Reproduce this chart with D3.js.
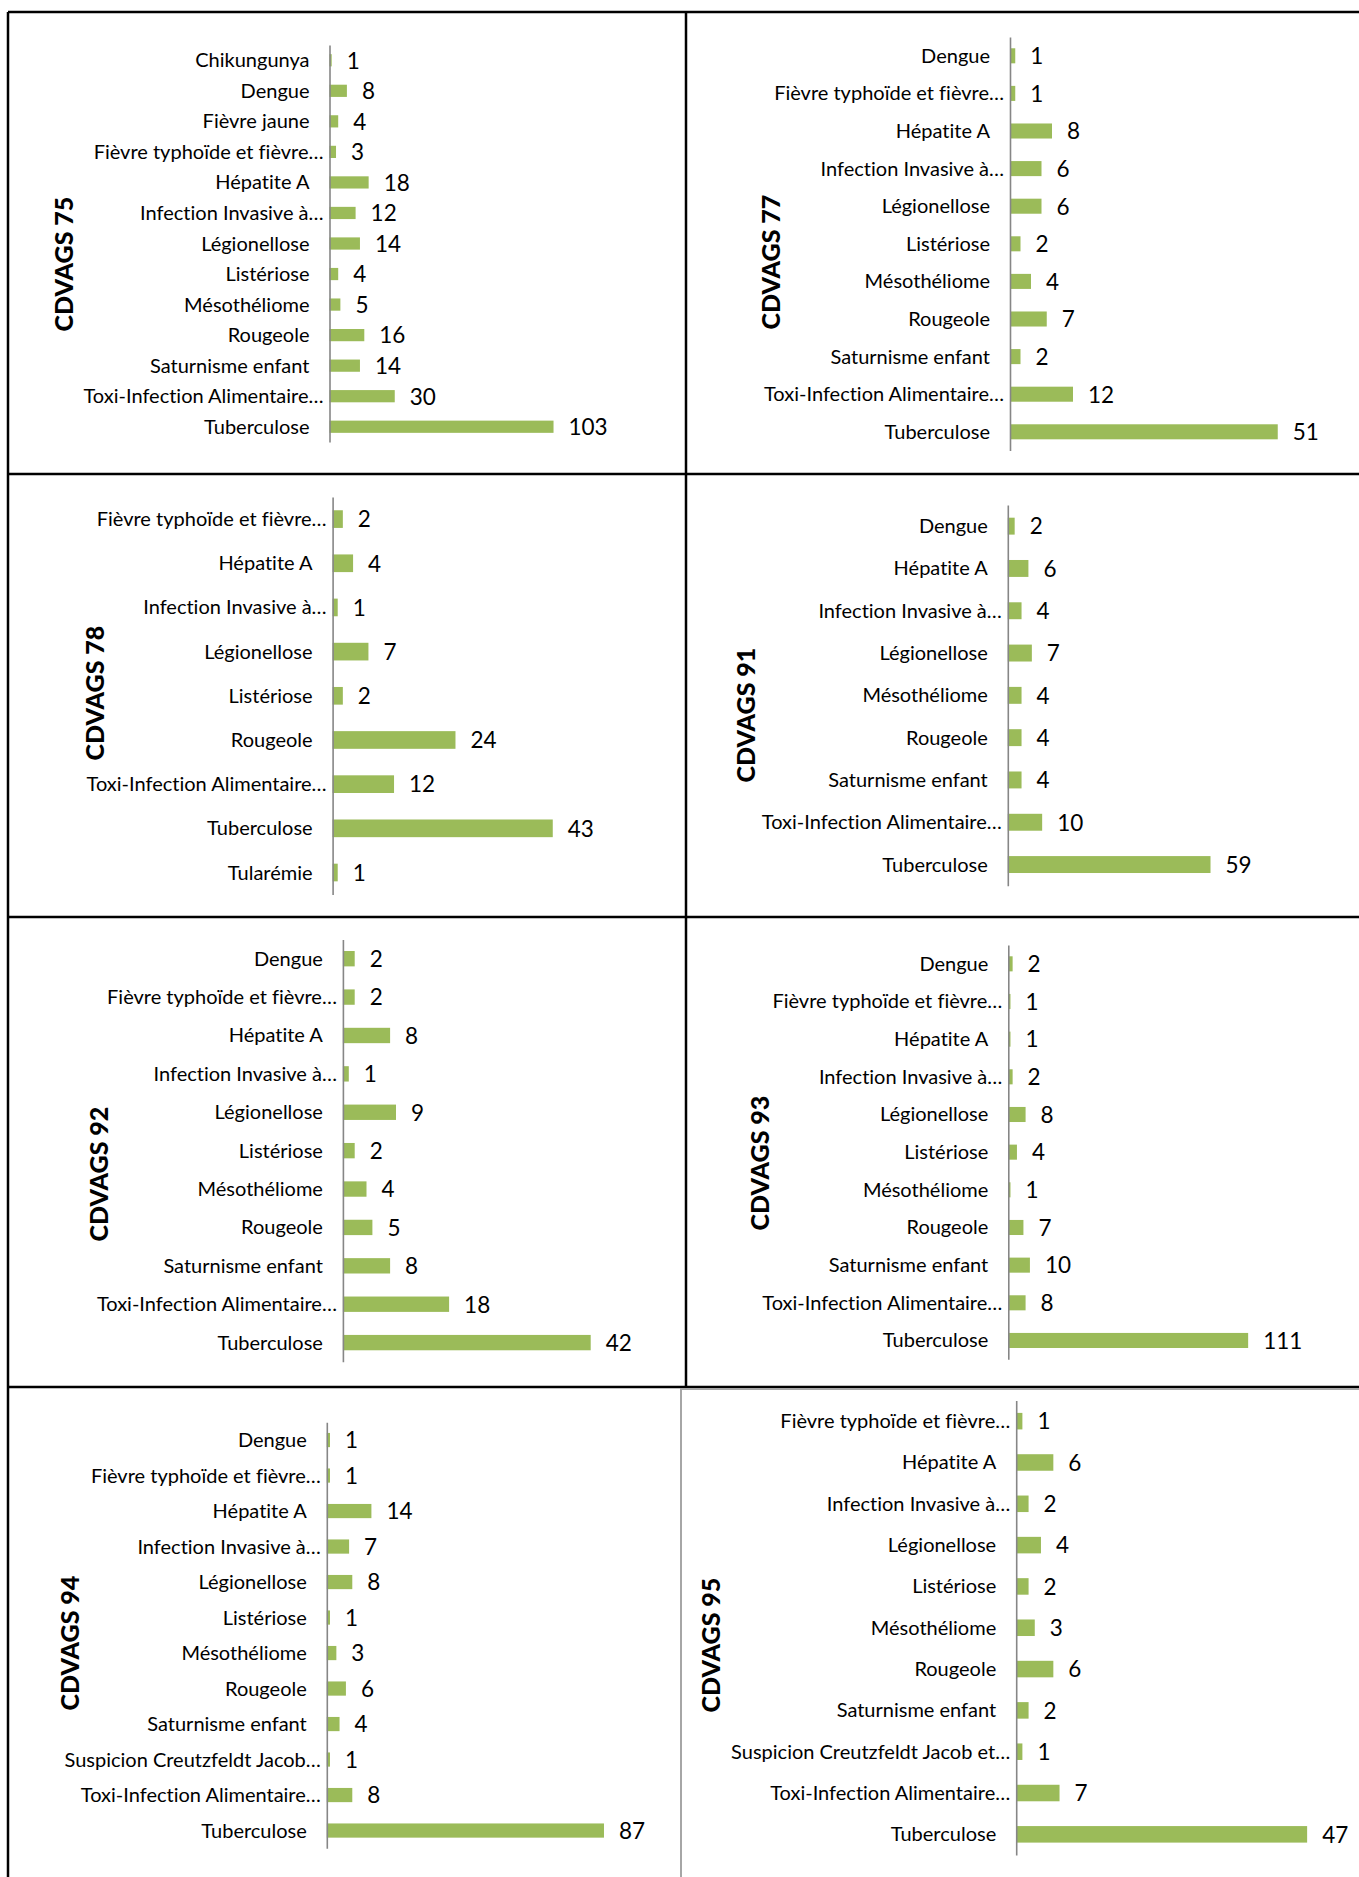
<!DOCTYPE html>
<html>
<head>
<meta charset="utf-8">
<script src="https://cdn.jsdelivr.net/npm/d3@7"></script>
<style>
  body { margin: 0; background: #fff; }
  svg { display: block; }
  text { font-variant-ligatures: none; font-feature-settings: "liga" 0; }
  .catLabel { font-family: Lato, "Noto Sans", sans-serif; font-size: 20px; fill: #000; }
  .valLabel { font-family: Lato, "Noto Sans", sans-serif; font-size: 22.5px; fill: #000; }
  .panelTitle { font-family: Lato, "Noto Sans", sans-serif; font-weight: 900; font-size: 25px; fill: #000; }
  .bar { fill: #9bbb59; }
  .grid { stroke: #000; stroke-width: 2.5; }
</style>
</head>
<body>
<div id="chart"></div>
<script>
// ---- data, one pair of arrays per CDVAGS ----
const cats75 = ["Chikungunya", "Dengue", "Fièvre jaune", "Fièvre typhoïde et fièvre…", "Hépatite A",
  "Infection Invasive à…", "Légionellose", "Listériose", "Mésothéliome", "Rougeole",
  "Saturnisme enfant", "Toxi-Infection Alimentaire…", "Tuberculose"];
const vals75 = [1, 8, 4, 3, 18, 12, 14, 4, 5, 16, 14, 30, 103];

const cats77 = ["Dengue", "Fièvre typhoïde et fièvre…", "Hépatite A", "Infection Invasive à…",
  "Légionellose", "Listériose", "Mésothéliome", "Rougeole", "Saturnisme enfant",
  "Toxi-Infection Alimentaire…", "Tuberculose"];
const vals77 = [1, 1, 8, 6, 6, 2, 4, 7, 2, 12, 51];

const cats78 = ["Fièvre typhoïde et fièvre…", "Hépatite A", "Infection Invasive à…", "Légionellose",
  "Listériose", "Rougeole", "Toxi-Infection Alimentaire…", "Tuberculose", "Tularémie"];
const vals78 = [2, 4, 1, 7, 2, 24, 12, 43, 1];

const cats91 = ["Dengue", "Hépatite A", "Infection Invasive à…", "Légionellose", "Mésothéliome",
  "Rougeole", "Saturnisme enfant", "Toxi-Infection Alimentaire…", "Tuberculose"];
const vals91 = [2, 6, 4, 7, 4, 4, 4, 10, 59];

const cats92 = ["Dengue", "Fièvre typhoïde et fièvre…", "Hépatite A", "Infection Invasive à…",
  "Légionellose", "Listériose", "Mésothéliome", "Rougeole", "Saturnisme enfant",
  "Toxi-Infection Alimentaire…", "Tuberculose"];
const vals92 = [2, 2, 8, 1, 9, 2, 4, 5, 8, 18, 42];

const cats93 = ["Dengue", "Fièvre typhoïde et fièvre…", "Hépatite A", "Infection Invasive à…",
  "Légionellose", "Listériose", "Mésothéliome", "Rougeole", "Saturnisme enfant",
  "Toxi-Infection Alimentaire…", "Tuberculose"];
const vals93 = [2, 1, 1, 2, 8, 4, 1, 7, 10, 8, 111];

const cats94 = ["Dengue", "Fièvre typhoïde et fièvre…", "Hépatite A", "Infection Invasive à…",
  "Légionellose", "Listériose", "Mésothéliome", "Rougeole", "Saturnisme enfant",
  "Suspicion Creutzfeldt Jacob…", "Toxi-Infection Alimentaire…", "Tuberculose"];
const vals94 = [1, 1, 14, 7, 8, 1, 3, 6, 4, 1, 8, 87];

const cats95 = ["Fièvre typhoïde et fièvre…", "Hépatite A", "Infection Invasive à…", "Légionellose",
  "Listériose", "Mésothéliome", "Rougeole", "Saturnisme enfant",
  "Suspicion Creutzfeldt Jacob et…", "Toxi-Infection Alimentaire…", "Tuberculose"];
const vals95 = [1, 6, 2, 4, 2, 3, 6, 2, 1, 7, 47];

// axis maximum of each chart (as the spreadsheet picked it)
const axisMax = {"75": 120, "77": 60, "78": 50, "91": 70, "92": 45, "93": 120, "94": 100, "95": 50};

// ---- layout: where every chart sits on the page ----
const width = 1359, height = 1877;
const layout = [
  {id: "75", cats: cats75, vals: vals75, axisX: 329.5, top: 45, bottom: 442, plotW: 261, tx: 64, ty: 264},
  {id: "77", cats: cats77, vals: vals77, axisX: 1010, top: 37, bottom: 450.6, plotW: 315, tx: 771, ty: 262},
  {id: "78", cats: cats78, vals: vals78, axisX: 332.6, top: 497, bottom: 894.6, plotW: 256, tx: 95, ty: 693},
  {id: "91", cats: cats91, vals: vals91, axisX: 1007.8, top: 505, bottom: 885.7, plotW: 240.5, tx: 746, ty: 715},
  {id: "92", cats: cats92, vals: vals92, axisX: 342.9, top: 939.5, bottom: 1361.8, plotW: 265.5, tx: 99, ty: 1174},
  {id: "93", cats: cats93, vals: vals93, axisX: 1008.3, top: 945, bottom: 1359.3, plotW: 259.3, tx: 760, ty: 1163},
  {id: "94", cats: cats94, vals: vals94, axisX: 326.8, top: 1422.3, bottom: 1848.3, plotW: 318.6, tx: 70, ty: 1643},
  {id: "95", cats: cats95, vals: vals95, axisX: 1016.2, top: 1400.5, bottom: 1855, plotW: 309.5, tx: 711, ty: 1645}
];

const svg = d3.select("#chart").append("svg")
  .attr("width", width)
  .attr("height", height)
  .style("background", "#fff");

// table lines of the document around the charts
const gridLines = [
  [8, 12, width, 12],
  [8, 474, width, 474],
  [8, 917, width, 917],
  [8, 1387, width, 1387],
  [8, 12, 8, height],
  [686, 12, 686, 1387]
];
svg.append("g").selectAll("line")
  .data(gridLines)
  .enter().append("line")
  .attr("class", "grid")
  .attr("x1", d => d[0]).attr("y1", d => d[1])
  .attr("x2", d => d[2]).attr("y2", d => d[3]);

// chart area border of the last chart (overlaps the table cell)
svg.append("path")
  .attr("d", "M681," + height + "V1389H" + width)
  .attr("fill", "none")
  .attr("stroke", "#a6a6a6")
  .attr("stroke-width", 2);

function drawPanel(p) {
  const g = svg.append("g").attr("class", "panel-" + p.id);

  const y = d3.scaleBand()
    .domain(p.cats)
    .range([p.top, p.bottom])
    .paddingInner(0.6)
    .paddingOuter(0.3);

  const x = d3.scaleLinear()
    .domain([0, axisMax[p.id]])
    .range([p.axisX, p.axisX + p.plotW]);

  // bars
  g.selectAll("rect")
    .data(p.cats)
    .enter().append("rect")
    .attr("class", "bar")
    .attr("x", x(0))
    .attr("y", d => y(d))
    .attr("width", (d, i) => x(p.vals[i]) - x(0))
    .attr("height", y.bandwidth());

  // vertical category axis
  const ax = g.append("g")
    .attr("transform", "translate(" + p.axisX + ",0)")
    .call(d3.axisLeft(y).tickSize(0).tickSizeOuter(0).tickPadding(20));
  ax.select(".domain").attr("stroke", "#868686").attr("stroke-width", 1.6);
  ax.selectAll(".tick text")
    .attr("class", "catLabel")
    .attr("font-family", null)
    .attr("font-size", null)
    .attr("fill", null)
    .attr("dy", "0.35em")
    // truncated labels get drawn closer to the axis, like the original
    .attr("x", d => d.endsWith("…") ? -6 : -20);

  // value labels
  g.selectAll(".valLabel")
    .data(p.cats)
    .enter().append("text")
    .attr("class", "valLabel")
    .attr("x", (d, i) => x(p.vals[i]) + 15)
    .attr("y", d => y(d) + y.bandwidth() / 2)
    .attr("dy", "0.37em")
    .text((d, i) => p.vals[i]);

  // rotated title
  g.append("text")
    .attr("class", "panelTitle")
    .attr("transform", "translate(" + p.tx + "," + p.ty + ") rotate(-90)")
    .attr("text-anchor", "middle")
    .attr("dy", "0.36em")
    .text("CDVAGS " + p.id);
}

layout.forEach(drawPanel);
</script>
</body>
</html>
